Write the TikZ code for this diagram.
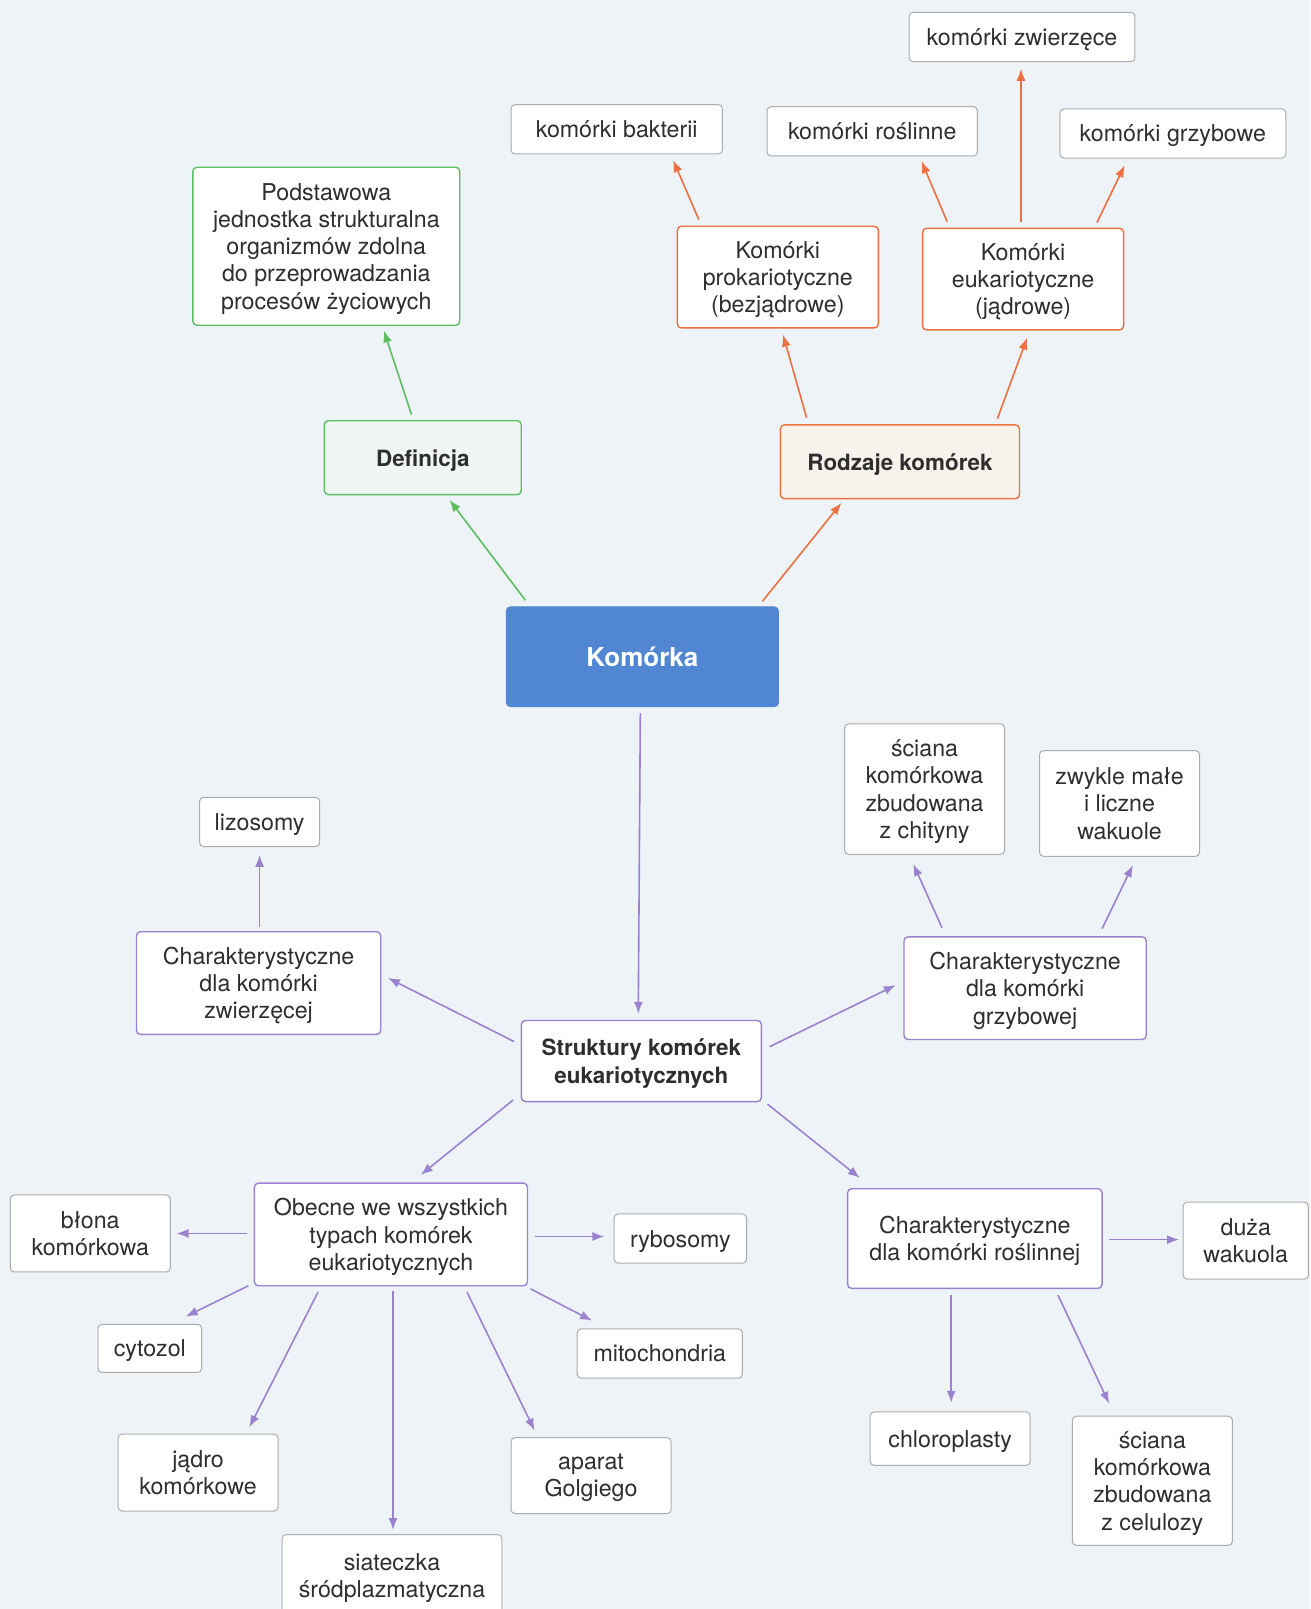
\documentclass[tikz,border=0pt]{standalone}
\usepackage{fontspec}
\setmainfont{TeX Gyre Heros}
\usetikzlibrary{arrows.meta}
\definecolor{leafgreen}{HTML}{5DBE62}
\definecolor{carrot}{HTML}{EC7040}
\definecolor{lavender}{HTML}{9A82CF}
\definecolor{cellblue}{HTML}{5086D2}
\definecolor{paper}{HTML}{EEF3F7}
\definecolor{ink}{HTML}{2E2E2E}
\definecolor{mintfill}{HTML}{F0F6F1}
\definecolor{sandfill}{HTML}{F7F2EC}

\begin{document}
\begin{tikzpicture}[x=0.513pt, y=-0.513pt, line width=0.8pt, >={Latex[length=6pt,width=4.5pt]}]

\fill[paper] (0,0) rectangle (1277,1568);
\useasboundingbox (0,0) rectangle (1277,1568);

\tikzstyle{every node}=[rectangle, rounded corners=2pt, draw=gray!65, fill=white, text=ink, align=center, inner sep=0pt, text depth=0pt, line width=0.5pt, font=\fontsize{11.6}{13.6}\selectfont]
\tikzstyle{greenbox}=[draw=leafgreen, line width=0.7pt]
\tikzstyle{orangebox}=[draw=carrot, line width=0.7pt]
\tikzstyle{purplebox}=[draw=lavender, line width=0.7pt]
\tikzstyle{greenarr}=[->, draw=leafgreen]
\tikzstyle{orangearr}=[->, draw=carrot]
\tikzstyle{purplearr}=[->, draw=lavender]

% top half
\draw (626,640) node[fill=cellblue, draw=cellblue, text=white, minimum width=136pt, minimum height=49.8pt, font=\fontsize{13}{15}\selectfont\bfseries] (kom) {Komórka};

\draw (412,446) node[greenbox, fill=mintfill, minimum width=98.5pt, minimum height=36.9pt, font=\fontsize{11.2}{13.6}\selectfont\bfseries] (def) {Definicja}
      (318,240) node[greenbox, minimum width=133.4pt, minimum height=79pt] (podst) {Podstawowa\\jednostka strukturalna\\organizmów zdolna\\do przeprowadzania\\procesów życiowych};

\draw (877,450) node[orangebox, fill=sandfill, minimum width=119.5pt, minimum height=36.9pt, font=\fontsize{11.2}{13.6}\selectfont\bfseries] (rodz) {Rodzaje komórek}
      (758,270) node[orangebox, minimum width=100.5pt, minimum height=50.8pt] (prok) {Komórki\\prokariotyczne\\(bezjądrowe)}
      (997,272) node[orangebox, minimum width=100.5pt, minimum height=50.8pt] (euk) {Komórki\\eukariotyczne\\(jądrowe)};

\draw (996,36) node[minimum width=112.9pt, minimum height=24.6pt] (zwierz) {komórki zwierzęce}
      (601,126) node[minimum width=105.7pt, minimum height=24.6pt] (bakt) {komórki bakterii}
      (850,128) node[minimum width=105.2pt, minimum height=24.6pt] (rosl) {komórki roślinne}
      (1143,130) node[minimum width=112.9pt, minimum height=24.6pt] (grzyb) {komórki grzybowe};

% bottom half
\draw (625,1034) node[purplebox, minimum width=120pt, minimum height=40.5pt, font=\fontsize{11.2}{13.6}\selectfont\bfseries] (strukt) {Struktury komórek\\eukariotycznych}
      (252,958) node[purplebox, minimum width=122.1pt, minimum height=51.3pt] (zwier) {Charakterystyczne\\dla komórki\\zwierzęcej}
      (999,963) node[purplebox, minimum width=121.1pt, minimum height=51.3pt] (grzybk) {Charakterystyczne\\dla komórki\\grzybowej}
      (381,1203) node[purplebox, minimum width=136.5pt, minimum height=51.3pt] (obec) {Obecne we wszystkich\\typach komórek\\eukariotycznych}
      (950,1207) node[purplebox, minimum width=127.2pt, minimum height=49.8pt] (rosk) {Charakterystyczne\\dla komórki roślinnej};

\draw (253,801) node[minimum width=60pt, minimum height=24.6pt] (lizo) {lizosomy}
      (901,769) node[minimum width=80pt, minimum height=65.2pt] (chit) {ściana\\komórkowa\\zbudowana\\z chityny}
      (1091,783) node[minimum width=80pt, minimum height=52.8pt] (wakm) {zwykle małe\\i liczne\\wakuole}
      (88,1202) node[minimum width=80pt, minimum height=38.5pt] (blona) {błona\\komórkowa}
      (663,1207) node[minimum width=66.2pt, minimum height=24.6pt] (rybo) {rybosomy}
      (1214,1209) node[minimum width=62.6pt, minimum height=38.5pt] (wakd) {duża\\wakuola}
      (146,1314) node[minimum width=51.8pt, minimum height=24.1pt] (cyto) {cytozol}
      (643,1319) node[minimum width=82.6pt, minimum height=24.6pt] (mito) {mitochondria}
      (193,1435) node[minimum width=80pt, minimum height=38.5pt] (jadro) {jądro\\komórkowe}
      (576,1438) node[minimum width=80pt, minimum height=38pt] (golgi) {aparat\\Golgiego}
      (926,1402) node[minimum width=80pt, minimum height=26.7pt] (chlor) {chloroplasty}
      (1123,1443) node[minimum width=80pt, minimum height=64.6pt] (celul) {ściana\\komórkowa\\zbudowana\\z celulozy}
      (382,1535) node[minimum width=109.8pt, minimum height=40.5pt] (siat) {siateczka\\śródplazmatyczna};

% connectors
\draw[greenarr] ([shift={(-114,-55)}]kom.center) -- ([shift={(26,41)}]def.center);
\draw[greenarr] ([shift={(-11,-42)}]def.center) -- ([shift={(56,82)}]podst.center);

\draw[orangearr] ([shift={(117,-54)}]kom.center) -- ([shift={(-57,40)}]rodz.center);
\draw[orangearr] ([shift={(-91,-43)}]rodz.center) -- ([shift={(5,56)}]prok.center);
\draw[orangearr] ([shift={(95,-42)}]rodz.center) -- ([shift={(4,57)}]euk.center);
\draw[orangearr] ([shift={(-77,-56)}]prok.center) -- ([shift={(55,30)}]bakt.center);
\draw[orangearr] ([shift={(-74,-56)}]euk.center) -- ([shift={(48,29)}]rosl.center);
\draw[orangearr] ([shift={(-2,-56)}]euk.center) -- ([shift={(-1,31)}]zwierz.center);
\draw[orangearr] ([shift={(72,-55)}]euk.center) -- ([shift={(-47,31)}]grzyb.center);

\draw[purplearr] ([shift={(-2,55)}]kom.center) -- ([shift={(-3,-46)}]strukt.center);
\draw[purplearr] ([shift={(-124,-19)}]strukt.center) -- ([shift={(126,-5)}]zwier.center);
\draw[purplearr] ([shift={(1,-55)}]zwier.center) -- ([shift={(0,32)}]lizo.center);
\draw[purplearr] ([shift={(125,-14)}]strukt.center) -- ([shift={(-126,-3)}]grzybk.center);
\draw[purplearr] ([shift={(-81,-59)}]grzybk.center) -- ([shift={(-11,73)}]chit.center);
\draw[purplearr] ([shift={(75,-58)}]grzybk.center) -- ([shift={(13,60)}]wakm.center);
\draw[purplearr] ([shift={(-125,38)}]strukt.center) -- ([shift={(29,-58)}]obec.center);
\draw[purplearr] ([shift={(123,42)}]strukt.center) -- ([shift={(-112,-59)}]rosk.center);

\draw[purplearr] ([shift={(-140,-1)}]obec.center) -- ([shift={(84,0)}]blona.center);
\draw[purplearr] ([shift={(140,2)}]obec.center) -- ([shift={(-74,-2)}]rybo.center);
\draw[purplearr] ([shift={(-139,50)}]obec.center) -- ([shift={(35,-31)}]cyto.center);
\draw[purplearr] ([shift={(136,53)}]obec.center) -- ([shift={(-66,-32)}]mito.center);
\draw[purplearr] ([shift={(-71,56)}]obec.center) -- ([shift={(50,-44)}]jadro.center);
\draw[purplearr] ([shift={(74,56)}]obec.center) -- ([shift={(-55,-44)}]golgi.center);
\draw[purplearr] ([shift={(2,55)}]obec.center) -- ([shift={(1,-44)}]siat.center);

\draw[purplearr] ([shift={(131,1)}]rosk.center) -- ([shift={(-65,-1)}]wakd.center);
\draw[purplearr] ([shift={(-23,55)}]rosk.center) -- ([shift={(1,-35)}]chlor.center);
\draw[purplearr] ([shift={(81,55)}]rosk.center) -- ([shift={(-42,-75)}]celul.center);

\end{tikzpicture}
\end{document}
